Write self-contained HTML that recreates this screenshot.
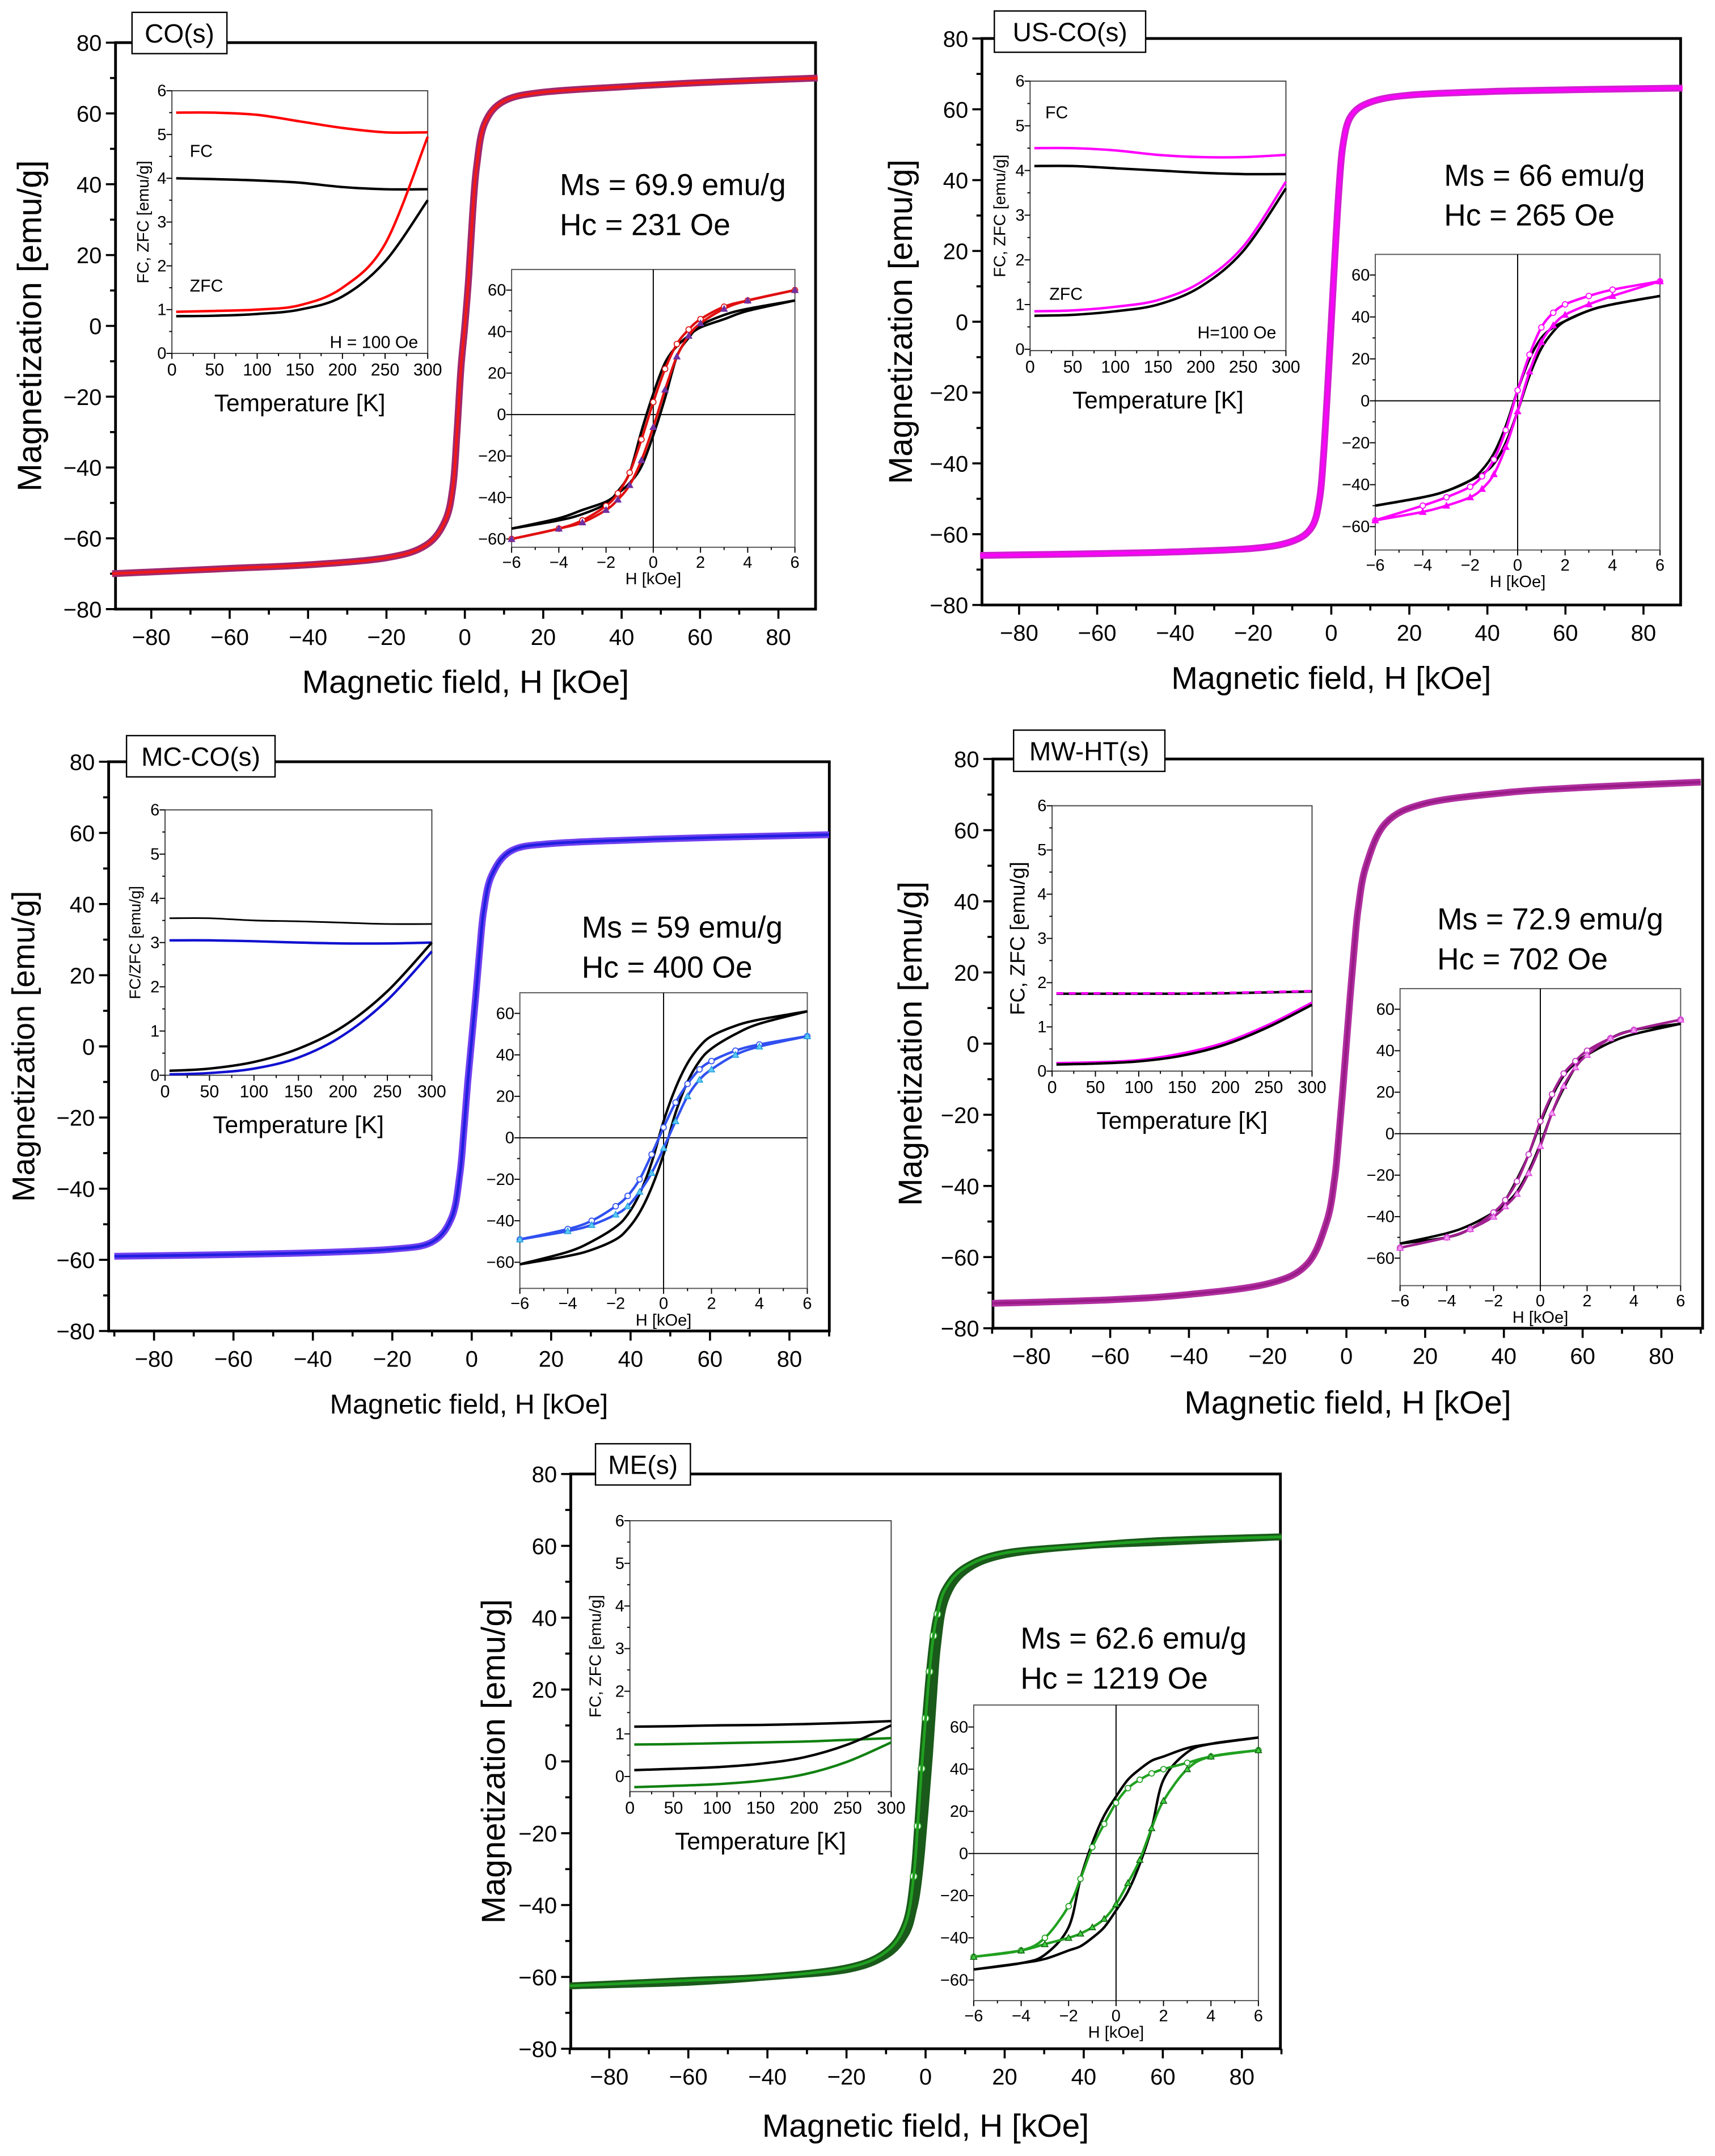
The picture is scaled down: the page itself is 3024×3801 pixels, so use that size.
<!DOCTYPE html>
<html><head><meta charset="utf-8"><style>
html,body{margin:0;padding:0;background:#fff}
svg{display:block}
text{font-family:"Liberation Sans",sans-serif;fill:#000}
</style></head><body>
<svg id="fig" xmlns="http://www.w3.org/2000/svg" width="3024" height="3801" viewBox="0 0 1247 1568" preserveAspectRatio="none"></svg>
<script>
// ---------- DATA ----------
const mainH = [-90,-60,-40,-20,-10,-5,-3,-2,-1,0,1,2,3,5,10,20,40,60,90];
const coMain = [-70,-68.5,-67.5,-65.5,-62,-55,-45,-30,-12,0,14,32,45,57,63.5,66,67.5,68.7,70];
const usMain = [-66,-65.5,-65,-64,-62,-58,-50,-38,-20,0,20,38,50,58,62,64,65,65.5,66];
const mcMain = [-59,-58.5,-58,-57,-55,-48,-36,-24,-10,2,14,27,38,48,55,57,58,58.7,59.5];
const mwMain = [-73,-72,-70.5,-67.5,-62,-50,-38,-27,-14,0,14,27,38,50,62,67.5,70.5,72,73.5];
const meMain = [-62.5,-61,-60,-57.5,-53,-45,-32,-18,-2,12,25,35,41,48,54,58,60,61.5,62.5];

const tempK = [5,50,100,150,200,250,300];
const coFcRed = [5.5,5.5,5.45,5.3,5.15,5.05,5.05];
const coFcBlk = [4.0,3.98,3.95,3.9,3.8,3.75,3.75];
const coZfcRed = [0.95,0.97,1.0,1.1,1.5,2.5,4.95];
const coZfcBlk = [0.85,0.86,0.9,1.0,1.3,2.1,3.5];
const usFcMag = [4.5,4.5,4.45,4.35,4.3,4.3,4.35];
const usFcBlk = [4.1,4.1,4.05,4.0,3.95,3.92,3.92];
const usZfcMag = [0.85,0.87,0.95,1.1,1.5,2.3,3.75];
const usZfcBlk = [0.75,0.77,0.85,1.0,1.4,2.2,3.6];
const mcFcBlk = [3.55,3.55,3.5,3.48,3.45,3.42,3.42];
const mcFcBlue = [3.05,3.05,3.03,3.0,2.98,2.98,3.0];
const mcZfcBlk = [0.1,0.15,0.3,0.6,1.1,1.9,3.0];
const mcZfcBlue = [0.02,0.05,0.15,0.4,0.9,1.7,2.8];
const mwFcBlk = [1.75,1.75,1.75,1.75,1.76,1.78,1.8];
const mwFcMag = [1.76,1.76,1.76,1.76,1.77,1.79,1.81];
const mwZfcBlk = [0.15,0.17,0.22,0.35,0.6,1.0,1.5];
const mwZfcMag = [0.18,0.2,0.25,0.4,0.65,1.05,1.55];
const meFcBlk = [1.17,1.18,1.2,1.21,1.23,1.26,1.3];
const meFcGrn = [0.75,0.76,0.78,0.8,0.82,0.86,0.9];
const meZfcBlk = [0.15,0.18,0.22,0.3,0.45,0.75,1.2];
const meZfcGrn = [-0.25,-0.22,-0.18,-0.1,0.05,0.35,0.8];

const loopH = [-6,-4,-3,-2,-1.5,-1,-0.5,0,0.5,1,1.5,2,3,4,6];
const coLoopBlk = [-55,-51,-48,-43,-37,-28,-8,10,25,33,38,42,46,50,55];
const coLoopRed = [-60,-55,-51,-44,-38,-28,-12,6,22,34,41,46,52,55,60];
const usLoopBlk = [-50,-46,-43,-38,-33,-25,-12,5,20,30,35,38,43,46,50];
const usLoopMag = [-57,-50,-46,-41,-36,-28,-14,5,22,35,42,46,50,53,57];
const mcLoopBlk = [-61,-55,-50,-43,-37,-27,-12,8,24,36,44,49,54,57,61];
const mcLoopBlue = [-49,-44,-40,-33,-28,-20,-8,5,17,26,33,37,42,45,49];
const mwLoopBlk = [-53,-50,-46,-38,-32,-22,-10,5,18,28,34,38,44,48,53];
const mwLoopMag = [-55,-50,-46,-38,-32,-23,-10,6,19,29,35,40,46,50,55];
const meLoopBlk = [-55,-52,-48,-35,-12,5,18,27,35,40,44,46,50,52,55];
const meLoopGrn = [-49,-46,-40,-25,-12,3,14,24,31,35,38,40,43,46,49];

// ---------- DRAW HELPERS ----------
const NS='http://www.w3.org/2000/svg';
const svg=document.getElementById('fig');
function mk(tag,attrs,parent){const e=document.createElementNS(NS,tag);for(const k in attrs)e.setAttribute(k,attrs[k]);(parent||svg).appendChild(e);return e;}
function txt(s,x,y,size,anchor,parent,rot){const e=mk('text',{x:x,y:y,'font-size':size,'text-anchor':anchor||'middle'},parent);if(rot)e.setAttribute('transform','rotate(-90 '+x+' '+y+')');e.textContent=s;return e;}
function lin(d0,d1,p0,p1){return v=>p0+(v-d0)*(p1-p0)/(d1-d0);}
function fmt(v){return v<0?'\u2212'+(-v):''+v;}
function smoothPath(pts){let d='M'+pts[0][0].toFixed(2)+','+pts[0][1].toFixed(2);
 for(let i=0;i<pts.length-1;i++){const p0=pts[i-1]||pts[i],p1=pts[i],p2=pts[i+1],p3=pts[i+2]||p2;
  const c1=[p1[0]+(p2[0]-p0[0])/6,p1[1]+(p2[1]-p0[1])/6],c2=[p2[0]-(p3[0]-p1[0])/6,p2[1]-(p3[1]-p1[1])/6];
  d+='C'+c1[0].toFixed(2)+','+c1[1].toFixed(2)+' '+c2[0].toFixed(2)+','+c2[1].toFixed(2)+' '+p2[0].toFixed(2)+','+p2[1].toFixed(2);}
 return d;}
function curve(xs,ys,X,Y,stroke,w,g,name,dash){const p=mk('path',{d:smoothPath(xs.map((x,i)=>[X(x),Y(ys[i])])),fill:'none',stroke:stroke,'stroke-width':w,'stroke-linejoin':'round'},g);
 if(dash)p.setAttribute('stroke-dasharray',dash);
 
 return p;}
function markers(xs,ys,X,Y,kind,stroke,fill,size,g,name){const mg=mk('g',{},g);
 
 
 xs.forEach((x,i)=>{const cx=X(x),cy=Y(ys[i]);
  if(kind==='c')mk('circle',{cx:cx,cy:cy,r:size,fill:fill,stroke:stroke,'stroke-width':0.7},mg);
  else mk('path',{d:'M'+cx+','+(cy-size)+'L'+(cx+size)+','+(cy+size*0.8)+'L'+(cx-size)+','+(cy+size*0.8)+'Z',fill:fill,stroke:stroke,'stroke-width':0.6},mg);});}

function panel(c){
 const g=mk('g',{});
 
 
 const X=lin(-80,80,c.xm80,c.xp80), Y=lin(80,-80,c.fy0,c.fy1);
 const fr=mk('rect',{x:c.fx0,y:c.fy0,width:c.fx1-c.fx0,height:c.fy1-c.fy0,fill:'none',stroke:'#000','stroke-width':2},g);
 
 
 for(let v=-80;v<=80;v+=10){const y=Y(v);const major=v%20===0;
  mk('line',{x1:c.fx0-(major?7:4),x2:c.fx0,y1:y,y2:y,stroke:'#000','stroke-width':1.5},g);
  if(major){const t=txt(fmt(v),c.fx0-10,y+6,16.5,'end',g);
   
   }}
 for(let v=-90;v<=90;v+=10){const x=X(v);if(x<c.fx0-1||x>c.fx1+1)continue;const major=v%20===0;
  mk('line',{x1:x,x2:x,y1:c.fy1,y2:c.fy1+(major?7:4),stroke:'#000','stroke-width':1.5},g);
  if(major){const t=txt(fmt(v),x,c.fy1+26,16.5,'middle',g);
   
   }}
 const yl=txt('Magnetization [emu/g]',c.ylx,(c.fy0+c.fy1)/2,c.ylfs,'middle',g,true);
 
 
 const xl=txt(c.xlabel,(c.fx0+c.fx1)/2,c.xly,c.xlfs,'middle',g);
 
 
 const tb=mk('rect',{x:c.tb[0],y:c.tb[1],width:c.tb[2],height:c.tb[3],fill:'#fff',stroke:'#000','stroke-width':1},g);
 
 
 const tt=txt(c.title,c.tb[0]+c.tb[2]/2,c.tb[1]+c.tb[3]/2+7,19,'middle',g);
 
 
 curve(mainH,c.main,X,Y,c.mainOuter,5,g,c.id+'-main-curve');
 if(c.mainBranch){const asc=c.main.map(v=>-v).reverse();curve(mainH,asc,X,Y,c.mainOuter,5,g,c.id+'-main-curve-ascending');
   markers([-3,-2,-1,0,1,2,3],[-32,-18,-2,12,25,35,41],X,Y,'c',c.mainInner,'#fff',2.5,g,c.id+'-main-markers-desc');}
 curve(mainH,c.main,X,Y,c.mainInner,2,g,c.id+'-main-curve-inner');
 const ms=txt(c.msText,c.ms[0],c.ms[1],22,'start',g);
 
 
 const hc=txt(c.hcText,c.ms[0],c.ms[1]+29,22,'start',g);
 
 
 const t=c.ti;
 const tg=mk('g',{},g);
 
 
 const TX=lin(0,300,t.x0,t.x1), TY=lin(0,6,t.y0v,t.y6);
 mk('rect',{x:t.x0,y:t.y6,width:t.x1-t.x0,height:t.yb-t.y6,fill:'#fff',stroke:'#444','stroke-width':0.8},tg);
 for(let v=0;v<=6;v+=0.5){const y=TY(v);const major=v%1===0;mk('line',{x1:t.x0-(major?4:2),x2:t.x0,y1:y,y2:y,stroke:'#000','stroke-width':0.8},tg);
  if(major)txt(''+v,t.x0-4,y+4,12,'end',tg);}
 for(let v=0;v<=300;v+=25){const x=TX(v);const major=v%50===0;mk('line',{x1:x,x2:x,y1:t.yb,y2:t.yb+(major?4:2),stroke:'#000','stroke-width':0.8},tg);
  if(major)txt(''+v,x,t.yb+16,12.5,'middle',tg);}
 txt('Temperature [K]',(t.x0+t.x1)/2,t.yb+42,17.5,'middle',tg);
 txt(t.ylab,t.ylx,(t.y6+t.yb)/2,t.ylfs,'middle',tg,true);
 t.series.forEach(s=>curve(tempK,s.v,TX,TY,s.c,s.w||1.8,tg,c.id+'-'+s.n,s.dash));
 (t.notes||[]).forEach(n=>txt(n[0],n[1],n[2],12.5,n[3]||'start',tg));
 const h=c.hi;
 const hg=mk('g',{},g);
 
 
 const HX=lin(-6,6,h.x0,h.x1), HY=lin(60,-60,h.y60,h.ym60);
 mk('rect',{x:h.x0,y:h.y0,width:h.x1-h.x0,height:h.y1-h.y0,fill:'#fff',stroke:'#555','stroke-width':0.8},hg);
 mk('line',{x1:h.x0,x2:h.x1,y1:HY(0),y2:HY(0),stroke:'#000','stroke-width':0.8},hg);
 mk('line',{x1:HX(0),x2:HX(0),y1:h.y0,y2:h.y1,stroke:'#000','stroke-width':0.8},hg);
 for(let v=-60;v<=60;v+=10){const y=HY(v);if(y<h.y0||y>h.y1)continue;const major=v%20===0;mk('line',{x1:h.x0-(major?4:2),x2:h.x0,y1:y,y2:y,stroke:'#000','stroke-width':0.8},hg);
  if(major)txt(fmt(v),h.x0-4,y+4,12,'end',hg);}
 for(let v=-6;v<=6;v+=1){const x=HX(v);const major=v%2===0;mk('line',{x1:x,x2:x,y1:h.y1,y2:h.y1+(major?4:2),stroke:'#000','stroke-width':0.8},hg);
  if(major)txt(fmt(v),x,h.y1+15,12,'middle',hg);}
 txt('H [kOe]',(h.x0+h.x1)/2,h.y1+27,12,'middle',hg);
 h.series.forEach(s=>{const asc=s.v.map(v=>-v).reverse();
  curve(loopH,s.v,HX,HY,s.c,s.w||1.8,hg,c.id+'-'+s.n+'-desc');
  curve(loopH,asc,HX,HY,s.c,s.w||1.8,hg,c.id+'-'+s.n+'-asc');
  if(s.m){markers(loopH,s.v,HX,HY,'c',s.m,'#fff',2,hg,c.id+'-'+s.n+'-desc-markers');
   markers(loopH,asc,HX,HY,'t',s.m2||s.m,s.mf||s.m,2.3,hg,c.id+'-'+s.n+'-asc-markers');}});
}

// ---------- PANELS ----------
panel({id:'co',fx0:84,fx1:593,fy0:31,fy1:443,xm80:110,xp80:566,title:'CO(s)',tb:[96,9,69,30],
 ylx:30,ylfs:24.5,xlabel:'Magnetic field, H  [kOe]',xly:504,xlfs:23.5,
 main:coMain,mainOuter:'#a0286e',mainInner:'#f01818',ms:[407,142],msText:'Ms = 69.9 emu/g',hcText:'Hc = 231 Oe',
 ti:{x0:125,x1:311,y6:66,y0v:257,yb:257,ylab:'FC, ZFC [emu/g]',ylx:108,ylfs:12,
  series:[{v:coFcRed,c:'#f00',n:'fc-red'},{v:coFcBlk,c:'#000',n:'fc-black'},{v:coZfcRed,c:'#f00',n:'zfc-red'},{v:coZfcBlk,c:'#000',n:'zfc-black'}],
  notes:[['FC',138,114],['ZFC',138,212],['H = 100 Oe',304,253,'end']]},
 hi:{x0:372,x1:578,y0:196,y1:398,y60:211,ym60:392,series:[{v:coLoopBlk,c:'#000',n:'loop-black'},{v:coLoopRed,c:'#e01010',n:'loop-red',m:'#e01010',m2:'#7030a0',mf:'#7030a0'}]}});

panel({id:'usco',fx0:714,fx1:1222,fy0:28,fy1:440,xm80:741,xp80:1195,title:'US-CO(s)',tb:[723,8,110,30],
 ylx:663,ylfs:24,xlabel:'Magnetic field, H [kOe]',xly:501,xlfs:23,
 main:usMain,mainOuter:'#d020d0',mainInner:'#ff00ff',ms:[1050,135],msText:'Ms = 66 emu/g',hcText:'Hc = 265 Oe',
 ti:{x0:749,x1:935,y6:59,y0v:254,yb:255,ylab:'FC, ZFC [emu/g]',ylx:731,ylfs:12,
  series:[{v:usFcMag,c:'#f0f',n:'fc-magenta'},{v:usFcBlk,c:'#000',n:'fc-black'},{v:usZfcMag,c:'#f0f',n:'zfc-magenta'},{v:usZfcBlk,c:'#000',n:'zfc-black'}],
  notes:[['FC',760,86],['ZFC',763,218],['H=100 Oe',928,246,'end']]},
 hi:{x0:1000,x1:1207,y0:185,y1:400,y60:200,ym60:383,series:[{v:usLoopBlk,c:'#000',n:'loop-black'},{v:usLoopMag,c:'#f0f',n:'loop-magenta',m:'#f0f'}]}});

panel({id:'mcco',fx0:79,fx1:603,fy0:554,fy1:968,xm80:112,xp80:574,title:'MC-CO(s)',tb:[92,535,108,30],
 ylx:25,ylfs:23,xlabel:'Magnetic field, H [kOe]',xly:1028,xlfs:20,
 main:mcMain,mainOuter:'#7040f0',mainInner:'#2020e0',ms:[423,682],msText:'Ms = 59 emu/g',hcText:'Hc = 400 Oe',
 ti:{x0:120,x1:314,y6:589,y0v:782,yb:782,ylab:'FC/ZFC [emu/g]',ylx:102,ylfs:11.5,
  series:[{v:mcFcBlk,c:'#000',n:'fc-black',w:1.2},{v:mcFcBlue,c:'#1010d0',n:'fc-blue'},{v:mcZfcBlk,c:'#000',n:'zfc-black'},{v:mcZfcBlue,c:'#1010d0',n:'zfc-blue'}]},
 hi:{x0:378,x1:587,y0:722,y1:937,y60:737,ym60:918,series:[{v:mcLoopBlk,c:'#000',n:'loop-black'},{v:mcLoopBlue,c:'#3050f0',n:'loop-blue',m:'#3050f0',m2:'#20a0e0',mf:'#60c8f0'}]}});

panel({id:'mwht',fx0:722,fx1:1238,fy0:552,fy1:966,xm80:750,xp80:1208,title:'MW-HT(s)',tb:[737,531,110,30],
 ylx:670,ylfs:24,xlabel:'Magnetic field, H [kOe]',xly:1028,xlfs:23.5,
 main:mwMain,mainOuter:'#b030a0',mainInner:'#9a1a88',ms:[1045,676],msText:'Ms = 72.9 emu/g',hcText:'Hc = 702 Oe',
 ti:{x0:765,x1:954,y6:586,y0v:779,yb:779,ylab:'FC, ZFC [emu/g]',ylx:745,ylfs:15,
  series:[{v:mwFcBlk,c:'#000',n:'fc-black'},{v:mwFcMag,c:'#f0f',n:'fc-magenta',dash:'5,4'},{v:mwZfcMag,c:'#f0f',n:'zfc-magenta'},{v:mwZfcBlk,c:'#000',n:'zfc-black'}]},
 hi:{x0:1018,x1:1222,y0:719,y1:935,y60:734,ym60:915,series:[{v:mwLoopBlk,c:'#000',n:'loop-black'},{v:mwLoopMag,c:'#a02090',n:'loop-magenta',m:'#c030c0',m2:'#e040e0',mf:'#f0a0f0'}]}});

panel({id:'me',fx0:415,fx1:931,fy0:1072,fy1:1490,xm80:443,xp80:903,title:'ME(s)',tb:[433,1050,69,30],
 ylx:367,ylfs:24,xlabel:'Magnetic field, H [kOe]',xly:1554,xlfs:23.5,
 main:meMain,mainBranch:true,mainOuter:'#1a5a1a',mainInner:'#20a020',ms:[742,1199],msText:'Ms = 62.6 emu/g',hcText:'Hc = 1219 Oe',
 ti:{x0:458,x1:648,y6:1106,y0v:1292,yb:1303,ylab:'FC, ZFC [emu/g]',ylx:437,ylfs:12,
  series:[{v:meFcBlk,c:'#000',n:'fc-black'},{v:meFcGrn,c:'#108010',n:'fc-green'},{v:meZfcBlk,c:'#000',n:'zfc-black'},{v:meZfcGrn,c:'#108010',n:'zfc-green'}]},
 hi:{x0:708,x1:915,y0:1240,y1:1455,y60:1256,ym60:1440,series:[{v:meLoopBlk,c:'#000',n:'loop-black'},{v:meLoopGrn,c:'#20a020',n:'loop-green',m:'#20a020',m2:'#106010',mf:'#40d040'}]}});
</script>
</body></html>
